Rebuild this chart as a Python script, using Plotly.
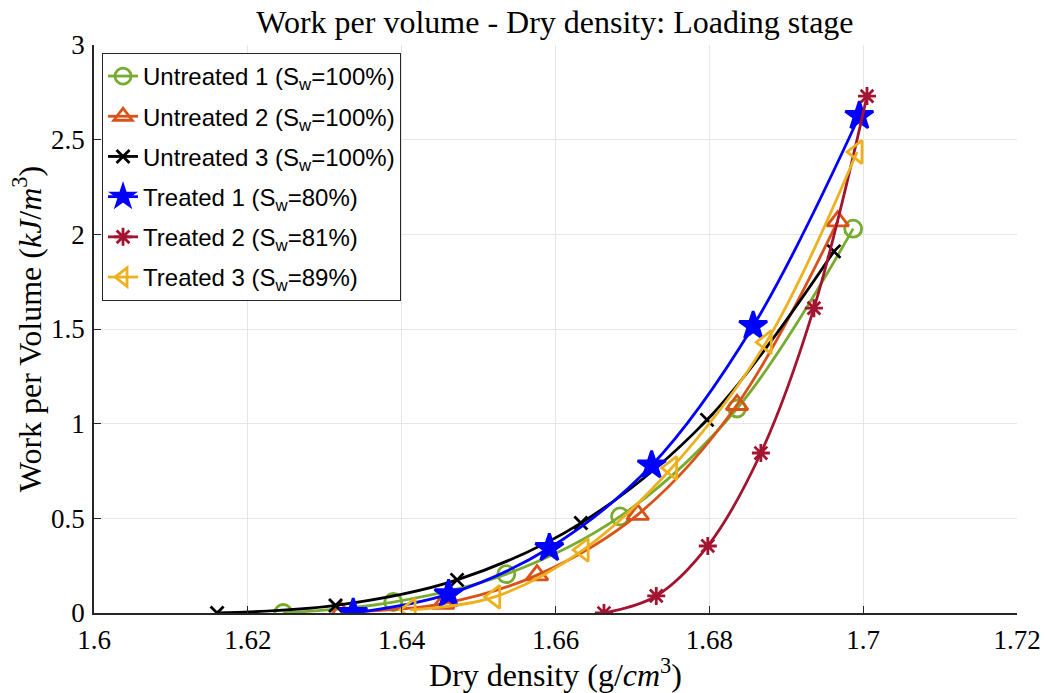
import plotly.graph_objects as go

# Data
u1_x = [1.6246, 1.6389, 1.6536, 1.6684, 1.6836, 1.6987]
u1_y = [0.0, 0.058, 0.205, 0.51, 1.08, 2.03]

u2_x = [1.6321, 1.6454, 1.6576, 1.6707, 1.6836, 1.6967]
u2_y = [0.005, 0.05, 0.20, 0.52, 1.10, 2.07]

u3_x = [1.6160, 1.6314, 1.6472, 1.6633, 1.6797, 1.6962]
u3_y = [0.0, 0.04, 0.175, 0.475, 1.02, 1.91]

t1_x = [1.6337, 1.6461, 1.6592, 1.6725, 1.6857, 1.6995]
t1_y = [0.0, 0.10, 0.343, 0.78, 1.516, 2.625]

t2_x = [1.6663, 1.6731, 1.6798, 1.6867, 1.6936, 1.7005]
t2_y = [0.0, 0.09, 0.354, 0.845, 1.61, 2.73]

t3_x = [1.6411, 1.6521, 1.6636, 1.6751, 1.6874, 1.6992]
t3_y = [0.016, 0.085, 0.333, 0.766, 1.43, 2.435]

names = [
    "Untreated 1 (S<sub>w</sub>=100%)",
    "Untreated 2 (S<sub>w</sub>=100%)",
    "Untreated 3 (S<sub>w</sub>=100%)",
    "Treated 1 (S<sub>w</sub>=80%)",
    "Treated 2 (S<sub>w</sub>=81%)",
    "Treated 3 (S<sub>w</sub>=89%)",
]
colors = ["#77AC30", "#D95319", "#000000", "#0000FF", "#A2142F", "#EDB120"]
symbols = ["circle-open", "triangle-up-open", "x-thin-open", "star",
           "asterisk-open", "triangle-left-open"]
sizes = [17, 19, 13, 21, 15, 20]

xs = [u1_x, u2_x, u3_x, t1_x, t2_x, t3_x]
ys = [u1_y, u2_y, u3_y, t1_y, t2_y, t3_y]

x_ticks = [1.6, 1.62, 1.64, 1.66, 1.68, 1.7, 1.72]
x_labels = ["1.6", "1.62", "1.64", "1.66", "1.68", "1.7", "1.72"]
y_ticks = [0, 0.5, 1, 1.5, 2, 2.5, 3]
y_labels = ["0", "0.5", "1", "1.5", "2", "2.5", "3"]

fig = go.Figure()
for i, (x, y, n, c, s, sz) in enumerate(zip(xs, ys, names, colors, symbols, sizes)):
    fig.add_trace(go.Scatter(
        x=x, y=y, name=n, mode="lines+markers", legendgroup=f"g{i}",
        line=dict(color=c, width=2.8, shape="spline", smoothing=1.0),
        marker=dict(symbol=s, size=sz, color=c,
                    line=dict(color=c, width=2.8)),
    ))

serif = "Liberation Serif, DejaVu Serif, serif"
fig.update_layout(
    width=1045, height=693,
    margin=dict(l=94, r=28, t=45, b=80),
    paper_bgcolor="white", plot_bgcolor="white",
    title=dict(text="Work per volume - Dry density: Loading stage",
               x=0.531, xanchor="center", y=0.969, yanchor="middle",
               font=dict(family=serif, size=32, color="black")),
    xaxis=dict(range=[1.6, 1.72], tickvals=x_ticks, ticktext=x_labels,
               showgrid=True, gridcolor="#e6e6e6", gridwidth=1,
               zeroline=False, showline=True, linecolor="#262626", linewidth=1.5,
               ticks="inside", ticklen=7, tickcolor="#262626",
               automargin=False, ticklabelstandoff=2,
               tickfont=dict(family=serif, size=27, color="black"),
               title=dict(text="Dry density (g/<i>cm</i><sup>3</sup>)",
                          font=dict(family=serif, size=32, color="black"),
                          standoff=0)),
    yaxis=dict(range=[0, 3], tickvals=y_ticks, ticktext=y_labels,
               showgrid=True, gridcolor="#e6e6e6", gridwidth=1,
               zeroline=False, showline=True, linecolor="#262626", linewidth=1.5,
               ticks="inside", ticklen=7, tickcolor="#262626",
               automargin=False, ticklabelstandoff=2,
               tickfont=dict(family=serif, size=27, color="black"),
               title=dict(text="Work per Volume (<i>kJ</i>/<i>m</i><sup>3</sup>)",
                          font=dict(family=serif, size=32, color="black"),
                          standoff=0)),
    legend=dict(x=0.0087, y=0.986, xanchor="left", yanchor="top",
                bgcolor="white", bordercolor="#262626", borderwidth=1,
                font=dict(family="Liberation Sans, Arial, sans-serif",
                          size=24, color="black"),
                itemwidth=30, tracegroupgap=6),
    showlegend=True,
)

fig.write_html("out.html", config={"displayModeBar": False},
               post_script="document.body.style.margin='0';")
